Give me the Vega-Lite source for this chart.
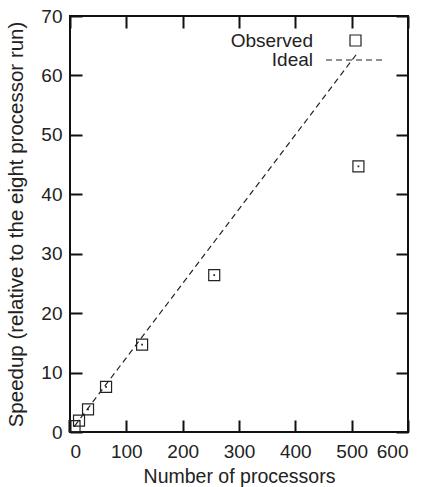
{
  "$schema": "https://vega.github.io/schema/vega-lite/v6.json",
  "width": 338,
  "height": 416,
  "autosize": {"type": "none"},
  "padding": {"left": 70, "top": 16, "right": 19, "bottom": 55},
  "background": "white",
  "config": {
    "view": {"stroke": "#111", "strokeWidth": 2},
    "font": "Liberation Sans",
    "axis": {
      "domain": false,
      "ticks": false,
      "tickSize": 0,
      "grid": true,
      "gridColor": "#111",
      "gridOpacity": 1,
      "gridWidth": 2,
      "labelFont": "Liberation Sans",
      "labelFontSize": 19,
      "labelColor": "#222",
      "titleFont": "Liberation Sans",
      "titleFontSize": 19.5,
      "titleFontWeight": "normal",
      "titleColor": "#222"
    },
    "legend": {
      "labelFont": "Liberation Sans",
      "labelFontSize": 19,
      "labelColor": "#222",
      "labelAlign": "right",
      "title": null
    }
  },
  "layer": [
    {
      "data": {"values": [
        {"n": 8, "speedup": 1, "series": "Ideal"},
        {"n": 512, "speedup": 64, "series": "Ideal"}
      ]},
      "mark": {"type": "line", "color": "#222", "strokeWidth": 1.2},
      "encoding": {
        "x": {"field": "n", "type": "quantitative", "scale": {"domain": [0, 600], "nice": false},
              "axis": {"orient": "bottom", "tickCount": 6, "gridDash": [12, 392, 12], "title": "Number of processors", "labelPadding": 10, "titlePadding": 6}},
        "y": {"field": "speedup", "type": "quantitative", "scale": {"domain": [0, 70], "nice": false},
              "axis": {"orient": "left", "values": [0, 10, 20, 30, 40, 50, 60, 70], "gridDash": [12, 314, 12, 0], "gridDashOffset": 0, "title": "Speedup (relative to the eight processor run)", "titleFontSize": 20.5, "labelPadding": 8, "titlePadding": 14}},
        "strokeDash": {"field": "series", "type": "nominal", "scale": {"domain": ["Ideal"], "range": [[6, 4]]},
              "legend": {"orient": "none", "legendX": 255, "legendY": 13, "symbolType": "stroke", "symbolSize": 3600, "symbolStrokeColor": "#222", "symbolStrokeWidth": 1.2, "labelOffset": -74}}
      }
    },
    {
      "data": {"values": [
        {"n": 8, "speedup": 1.0, "series": "Observed"},
        {"n": 16, "speedup": 1.9, "series": "Observed"},
        {"n": 32, "speedup": 3.8, "series": "Observed"},
        {"n": 64, "speedup": 7.6, "series": "Observed"},
        {"n": 128, "speedup": 14.7, "series": "Observed"},
        {"n": 256, "speedup": 26.4, "series": "Observed"},
        {"n": 512, "speedup": 44.7, "series": "Observed"}
      ]},
      "layer": [
        {
          "mark": {"type": "point", "shape": "square", "size": 121, "strokeWidth": 1.2, "color": "#222", "opacity": 1},
          "encoding": {
            "x": {"field": "n", "type": "quantitative"},
            "y": {"field": "speedup", "type": "quantitative"},
            "shape": {"field": "series", "type": "nominal", "scale": {"domain": ["Observed"], "range": ["square"]},
                  "legend": {"orient": "none", "legendX": 276, "legendY": 15, "symbolSize": 121, "symbolStrokeColor": "#222", "symbolStrokeWidth": 1.2, "symbolFillColor": "transparent", "labelOffset": -52}}
          }
        },
        {
          "mark": {"type": "point", "shape": "square", "size": 3, "filled": true, "color": "#222", "opacity": 1},
          "encoding": {
            "x": {"field": "n", "type": "quantitative"},
            "y": {"field": "speedup", "type": "quantitative"}
          }
        }
      ]
    }
  ],
  "resolve": {"legend": {"shape": "independent", "strokeDash": "independent"}}
}
